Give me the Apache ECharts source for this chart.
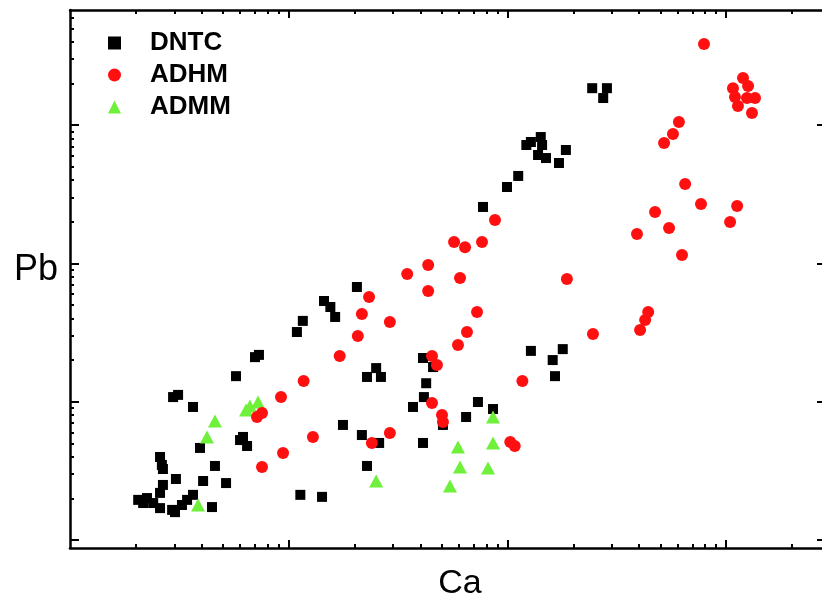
<!DOCTYPE html>
<html>
<head>
<meta charset="utf-8">
<title>Pb vs Ca</title>
<script src="https://cdn.jsdelivr.net/npm/echarts@6/dist/echarts.min.js"></script>
<style>
    html, body { margin: 0; padding: 0; background: #fff; }
    #chart { width: 822px; height: 598px; }
</style>
</head>
<body>
<div id="chart"></div>
<script>
// 图例顺序
var legendNames = ['DNTC', 'ADHM', 'ADMM'];

// [Ca, Pb] 点数据（从图上读出，对数坐标）
var dntcPoints = [
    [244, 1850], [285, 1850], [274, 1570], [122, 718], [128, 755], [142, 820], [144, 718],
    [138, 608], [150, 578], [185, 661], [172, 532], [112, 429], [99.5, 357], [77.3, 256],
    [20.5, 67.5], [14.5, 53.5], [15.5, 48.4], [16.3, 41.0], [11.6, 38.4], [10.9, 31.9],
    [7.01, 21.0], [7.31, 21.8], [5.74, 15.3],
    [22.8, 15.1], [25.1, 17.5], [26.4, 15.1], [41.1, 20.7], [42.5, 13.6], [41.5, 10.8], [37.0, 9.16],
    [17.7, 6.79], [21.6, 5.74], [25.9, 5.03], [22.8, 3.43], [41.1, 5.03], [50.7, 6.79],
    [64.7, 7.75], [73.3, 9.95], [85.9, 8.85],
    [3.65, 9.16], [2.96, 10.8], [3.12, 11.2], [3.93, 4.63], [5.99, 5.28], [6.45, 4.78], [6.18, 5.56],
    [2.58, 3.98], [2.63, 3.49], [2.66, 3.26], [3.05, 2.76], [2.66, 2.50], [2.58, 2.19],
    [2.05, 1.95], [2.25, 2.01], [2.16, 1.85], [2.40, 1.85], [2.58, 1.70], [2.93, 1.65],
    [3.02, 1.59], [3.25, 1.79], [3.43, 1.95], [3.65, 2.12],
    [4.60, 3.43], [4.06, 2.67], [5.17, 2.58], [4.46, 1.73], [11.3, 2.12], [14.2, 2.05],
    [128, 23.3], [161, 20.0], [179, 24.0], [165, 15.3], [45.7, 17.8]
];
var adhmPoints = [
    [792, 3860], [1194, 2190], [1259, 1920], [1074, 1850], [1097, 1600], [1245, 1570],
    [1355, 1570], [1132, 1374], [1312, 1224], [608, 1054], [571, 863], [520, 743],
    [649, 375], [767, 269], [1122, 260], [1042, 199], [473, 235], [548, 180], [391, 163],
    [628, 115], [187, 77.1], [440, 44.6], [426, 39.0], [404, 33.0], [246, 30.9],
    [87.7, 206], [57.0, 143], [64.0, 131], [76.5, 143], [43.4, 97.5], [34.8, 83.8],
    [60.7, 78.5], [43.4, 63.1], [23.3, 57.1], [21.6, 43.1], [29.0, 37.7], [20.7, 29.9],
    [17.1, 21.4], [11.7, 14.1], [9.22, 10.8], [7.55, 8.28], [7.16, 7.75], [12.9, 5.56],
    [29.0, 5.94], [24.0, 5.03], [9.42, 4.26], [7.55, 3.37], [45.2, 9.79], [50.2, 8.02],
    [50.7, 7.13], [103, 5.11], [108, 4.78], [117, 14.1], [72.6, 44.6], [65.3, 31.9],
    [59.4, 25.7], [45.2, 21.4], [47.6, 18.4]
];
var admmPoints = [
    [7.24, 9.95], [6.65, 9.31], [6.38, 8.71], [4.60, 7.25], [4.23, 5.56], [3.85, 1.79],
    [25.1, 2.67], [59.4, 4.70], [60.7, 3.37], [54.6, 2.46], [85.9, 7.75], [85.9, 5.03], [81.5, 3.32]
];

// 坐标轴范围与刻度（无刻度标签）
var caMin = 1, caMax = 2860;
var pbMin = 0.875, pbMax = 6800;
var caMajor = [10, 100, 1000];
var caMinor = [2, 3, 4, 5, 6, 7, 8, 9, 20, 30, 40, 50, 60, 70, 80, 90,
    200, 300, 400, 500, 600, 700, 800, 900, 2000];
var pbMajor = [1, 10, 100, 1000];
var pbMinor = [2, 3, 4, 5, 6, 7, 8, 9, 20, 30, 40, 50, 60, 70, 80, 90,
    200, 300, 400, 500, 600, 700, 800, 900, 2000, 3000, 4000, 5000, 6000];

var FONT = "'Liberation Sans', Arial, sans-serif";

/**
 * 一条带内刻度的边框轴
 */
function tickAxis(min, max, position, ticks, len, showLine) {
    return {
        type: 'log',
        logBase: 10,
        min: min,
        max: max,
        position: position,
        axisLine: {show: showLine, onZero: false, lineStyle: {color: '#000', width: 2.5}},
        axisTick: {show: true, inside: true, length: len, customValues: ticks,
            lineStyle: {color: '#000', width: 2}},
        axisLabel: {show: false},
        minorTick: {show: false},
        splitLine: {show: false}
    };
}

var xBottom = tickAxis(caMin, caMax, 'bottom', caMajor, 8, true);
xBottom.name = 'Ca';
xBottom.nameLocation = 'middle';
xBottom.nameGap = 19;
xBottom.nameTextStyle = {fontFamily: FONT, fontSize: 34, color: '#000', padding: [0, 0, 0, 24]};

var yLeft = tickAxis(pbMin, pbMax, 'left', pbMajor, 9, true);
yLeft.name = 'Pb';
yLeft.nameLocation = 'middle';
yLeft.nameRotate = 0;
yLeft.nameGap = 12;
// 名称比轴中心略高
yLeft.nameTextStyle = {fontFamily: FONT, fontSize: 36, color: '#000',
    verticalAlign: 'bottom', lineHeight: 18};

var option = {
    animation: false,
    backgroundColor: '#fff',
    grid: {left: 70, top: 10, right: -4, bottom: 50, outerBoundsMode: 'none', containLabel: false},
    legend: {
        data: legendNames,
        orient: 'vertical',
        left: 103,
        top: 21,
        itemWidth: 13,
        itemHeight: 13,
        itemGap: -2,
        textStyle: {fontFamily: FONT, fontWeight: 'bold', fontSize: 26, lineHeight: 26, color: '#000',
            padding: [8, 0, 0, 24]}
    },
    xAxis: [
        xBottom,
        tickAxis(caMin, caMax, 'bottom', caMinor, 4, false),
        tickAxis(caMin, caMax, 'top', caMajor, 8, true),
        tickAxis(caMin, caMax, 'top', caMinor, 4, false)
    ],
    yAxis: [
        yLeft,
        tickAxis(pbMin, pbMax, 'left', pbMinor, 4, false),
        tickAxis(pbMin, pbMax, 'right', pbMajor, 9, true),
        tickAxis(pbMin, pbMax, 'right', pbMinor, 4, false)
    ],
    series: [
        {
            name: 'DNTC', type: 'scatter', xAxisIndex: 0, yAxisIndex: 0,
            symbol: 'rect', symbolSize: 10,
            itemStyle: {color: '#000', opacity: 1},
            data: dntcPoints
        },
        {
            name: 'ADMM', type: 'scatter', xAxisIndex: 0, yAxisIndex: 0,
            symbol: 'triangle', symbolSize: [14, 13],
            itemStyle: {color: '#6ff03a', opacity: 1},
            data: admmPoints
        },
        {
            name: 'ADHM', type: 'scatter', xAxisIndex: 0, yAxisIndex: 0,
            symbol: 'circle', symbolSize: 12,
            itemStyle: {color: '#ff1010', opacity: 1},
            data: adhmPoints
        }
    ]
};

var myChart = echarts.init(document.getElementById('chart'));
myChart.setOption(option);
</script>
</body>
</html>
